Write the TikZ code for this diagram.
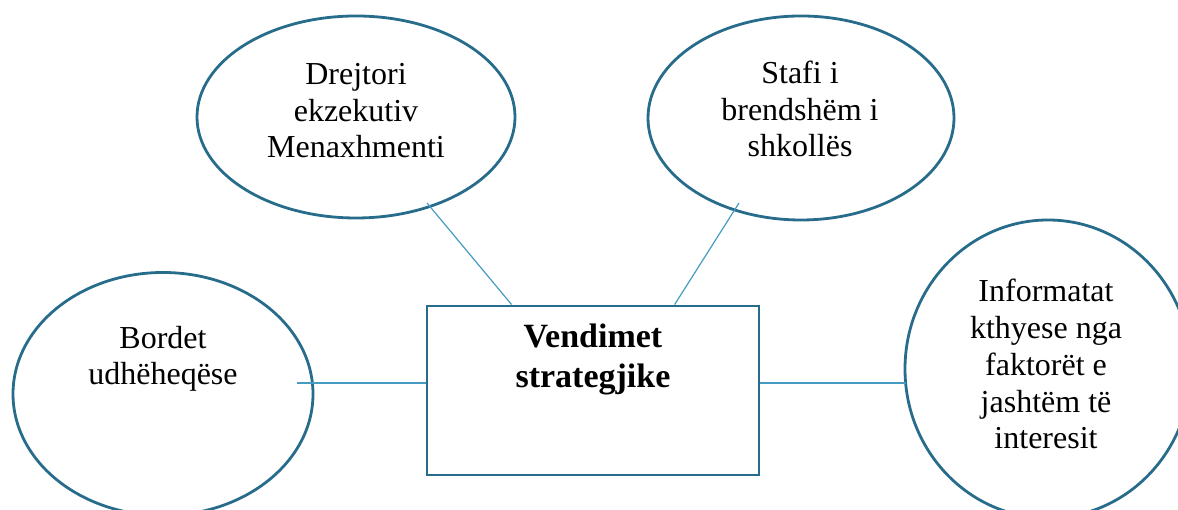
\documentclass[tikz,border=0pt]{standalone}
\usepackage{fontspec}
\setmainfont{Liberation Serif}
\usetikzlibrary{shapes.geometric}
\definecolor{edge}{RGB}{40,108,140}
\definecolor{conn}{RGB}{70,155,195}
\begin{document}
\begin{tikzpicture}[x=1pt,y=1pt,
  oval/.style={ellipse,draw=edge,line width=2.8pt,inner sep=0pt},
  txt/.style={align=center,inner sep=0pt,anchor=base,font=\fontsize{32}{36.8}\selectfont},
  btxt/.style={align=center,inner sep=0pt,anchor=base,font=\bfseries\fontsize{34}{40}\selectfont},
  conline/.style={draw=conn,line width=1.2pt}]
\useasboundingbox (0,0) rectangle (1178,510);
% shapes
\node[oval,minimum width=300,minimum height=243] (bordet) at (163,116) {};
\node[oval,minimum width=318,minimum height=202] (drejt) at (356,393) {};
\node[oval,minimum width=306,minimum height=204] (stafi) at (801,392) {};
\node[oval,minimum width=286,minimum height=298] (info) at (1048,141) {};
\node[draw=edge,line width=2.8pt,minimum width=332,minimum height=169,inner sep=0pt] (box) at (593,119.5) {};
% texts
\node[txt] (bordetT) at (163,125) {Bordet\\udhëheqëse};
\node[txt] (drejtT) at (356,352) {Drejtori\\ekzekutiv\\Menaxhmenti};
\node[txt] (stafiT) at (800,353) {Stafi i\\brendshëm i\\shkollës};
\node[txt] (infoT) at (1046,61) {Informatat\\kthyese nga\\faktorët e\\jashtëm të\\interesit};
\node[btxt] (boxT) at (593,122) {Vendimet\\strategjike};
% connectors
\coordinate (c1) at (297,127);
\coordinate (c2) at (427,307);
\coordinate (c3) at (739,307);
\coordinate (b2) at ([xshift=86pt]box.north west);
\coordinate (b3) at ([xshift=249pt]box.north west);
\coordinate (b4) at (box.east |- c1);
\draw[conline] (c1) -- (c1 -| box.west);
\draw[conline] (c2) -- (b2);
\draw[conline] (c3) -- (b3);
\draw[conline] (b4) -- (905.6,127);
\end{tikzpicture}
\end{document}
